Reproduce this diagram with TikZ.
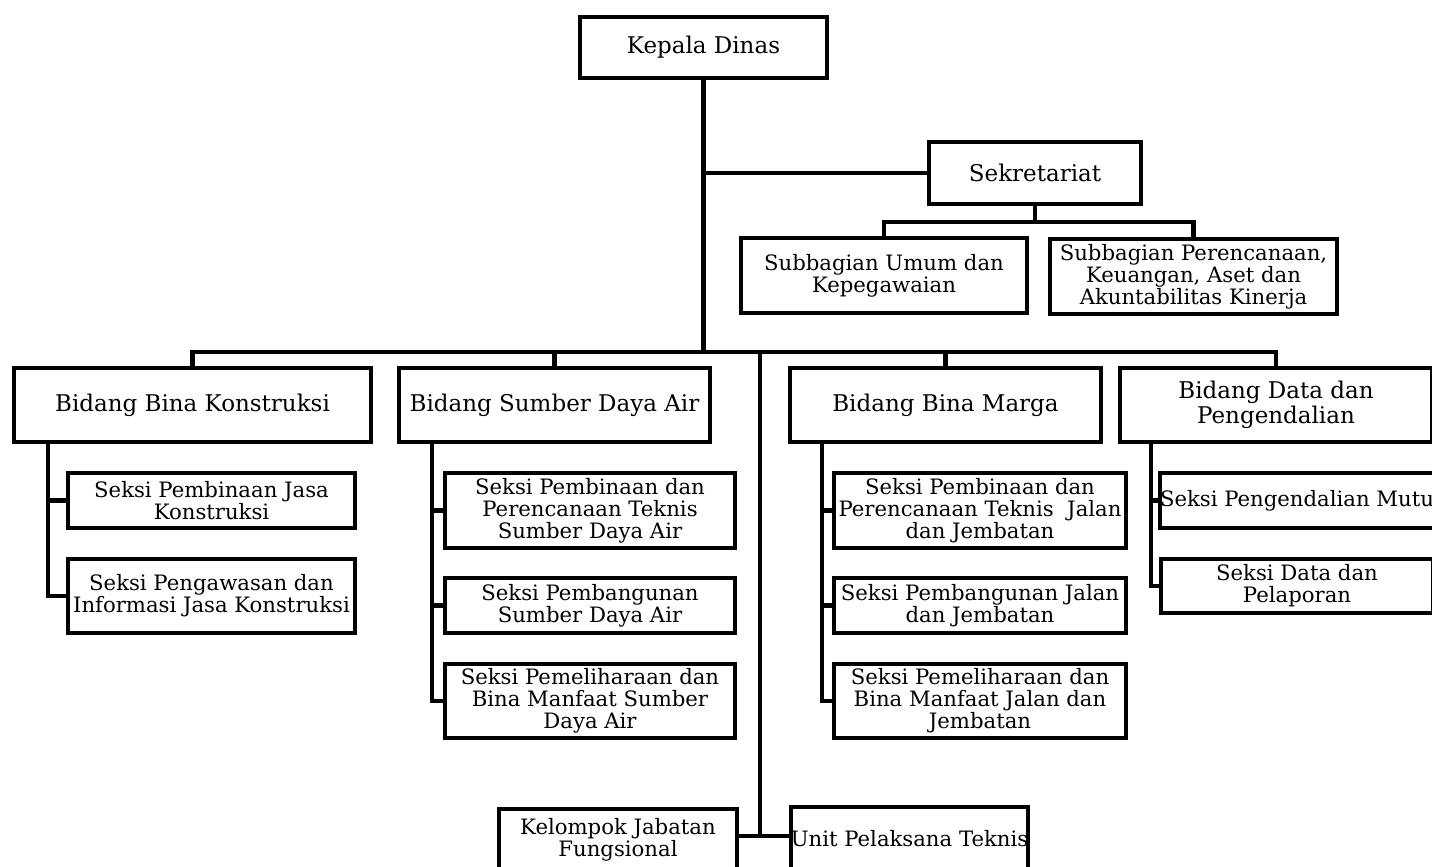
\documentclass[tikz,border=0pt]{standalone}
\usepackage{fontspec}
\setmainfont{DejaVu Serif}
\begin{document}
\begin{tikzpicture}[
        x = 0.5pt, y = -0.5pt,
        box/.style = {draw, line width=2.2pt, align=center, inner sep=0pt},
        big/.style = {box, font=\fontsize{11.5}{12.5}\selectfont},
        small/.style = {box, font=\fontsize{10.6}{11}\selectfont},
        link/.style = {line width=2.2pt}
    ]
    \useasboundingbox (0,0) rectangle (1432,867);
    %--- Pimpinan dan Sekretariat ---%
        \node (kd) [big, minimum width=123.5pt, minimum height=30.5pt] at (703.5,47.5) {Kepala Dinas};
        \node (sek) [big, minimum width=106pt, minimum height=31pt] at (1035,173) {Sekretariat};
        \node (sub1) [small, minimum width=143pt, minimum height=37.5pt] at (884,275.5) {Subbagian Umum dan\\Kepegawaian};
        \node (sub2) [small, minimum width=143.5pt, minimum height=37.5pt] at (1193.5,276.5) {Subbagian Perencanaan,\\Keuangan, Aset dan\\Akuntabilitas Kinerja};
    %--- Bidang ---%
        \node (bk) [big, minimum width=178.5pt, minimum height=37pt] at (192.5,405) {Bidang Bina Konstruksi};
        \node (sda) [big, minimum width=155.5pt, minimum height=37pt] at (554.5,405) {Bidang Sumber Daya Air};
        \node (bm) [big, minimum width=155.5pt, minimum height=37pt] at (945.5,405) {Bidang Bina Marga};
        \node (dp) [big, minimum width=156pt, minimum height=37pt] at (1276,405) {Bidang Data dan\\Pengendalian};
    %--- Seksi ---%
        \node (bk1) [small, minimum width=143.5pt, minimum height=27.5pt] at (211.5,500.5) {Seksi Pembinaan Jasa\\Konstruksi};
        \node (bk2) [small, minimum width=143.5pt, minimum height=37pt] at (211.5,596) {Seksi Pengawasan dan\\Informasi Jasa Konstruksi};
        \node (sda1) [small, minimum width=145pt, minimum height=37.5pt] at (590,510.5) {Seksi Pembinaan dan\\Perencanaan Teknis\\Sumber Daya Air};
        \node (sda2) [small, minimum width=145pt, minimum height=27.5pt] at (590,605.5) {Seksi Pembangunan\\Sumber Daya Air};
        \node (sda3) [small, minimum width=145pt, minimum height=37pt] at (590,701) {Seksi Pemeliharaan dan\\Bina Manfaat Sumber\\Daya Air};
        \node (bm1) [small, minimum width=146pt, minimum height=37.5pt] at (980,510.5) {Seksi Pembinaan dan\\Perencanaan Teknis~~Jalan\\dan Jembatan};
        \node (bm2) [small, minimum width=146pt, minimum height=27.5pt] at (980,605.5) {Seksi Pembangunan Jalan\\dan Jembatan};
        \node (bm3) [small, minimum width=146pt, minimum height=37pt] at (980,701) {Seksi Pemeliharaan dan\\Bina Manfaat Jalan dan\\Jembatan};
        \node (dp1) [small, minimum width=136pt, minimum height=27.5pt] at (1297,500.5) {Seksi Pengendalian Mutu};
        \node (dp2) [small, minimum width=136pt, minimum height=27pt] at (1297,586) {Seksi Data dan\\Pelaporan};
    %--- Kelompok dan Unit ---%
        \node (kjf) [small, minimum width=119pt, minimum height=31pt] at (618,840) {Kelompok Jabatan\\Fungsional};
        \node (upt) [small, minimum width=118.5pt, minimum height=32pt] at (909.5,839) {Unit Pelaksana Teknis};
    %--- Draw Links ---%
        \coordinate (bus) at (705,352);
        \coordinate (sbus) at (1033,222);
        \coordinate (low) at (760,352);
        \coordinate (ujung) at (760,836);
        \draw[link] (kd.south) -- (kd.south |- bus);
        \draw[link] (kd.south |- sek.west) -- (sek.west);
        \draw[link] (sek.south) -- (sek.south |- sbus);
        \draw[link] (sub1.north) |- (sbus) -| (sub2.north);
        \draw[link] (bk.north) |- (bus) -| (dp.north);
        \draw[link] (sda.north) -- (sda.north |- bus);
        \draw[link] (bm.north) -- (bm.north |- bus);
        \draw[link] (low) -- (ujung);
        \draw[link] (kjf.east |- ujung) -- (upt.west |- ujung);
    %--- Draw Seksi Links ---%
        \coordinate (bkl) at (48,444);
        \coordinate (sdal) at (432,444);
        \coordinate (bml) at (822,444);
        \coordinate (dpl) at (1151,444);
        \draw[link] (bkl) |- (bk2.west);
        \draw[link] (bkl |- bk1.west) -- (bk1.west);
        \draw[link] (sdal) |- (sda3.west);
        \draw[link] (sdal |- sda1.west) -- (sda1.west);
        \draw[link] (sdal |- sda2.west) -- (sda2.west);
        \draw[link] (bml) |- (bm3.west);
        \draw[link] (bml |- bm1.west) -- (bm1.west);
        \draw[link] (bml |- bm2.west) -- (bm2.west);
        \draw[link] (dpl) |- (dp2.west);
        \draw[link] (dpl |- dp1.west) -- (dp1.west);
\end{tikzpicture}
\end{document}
